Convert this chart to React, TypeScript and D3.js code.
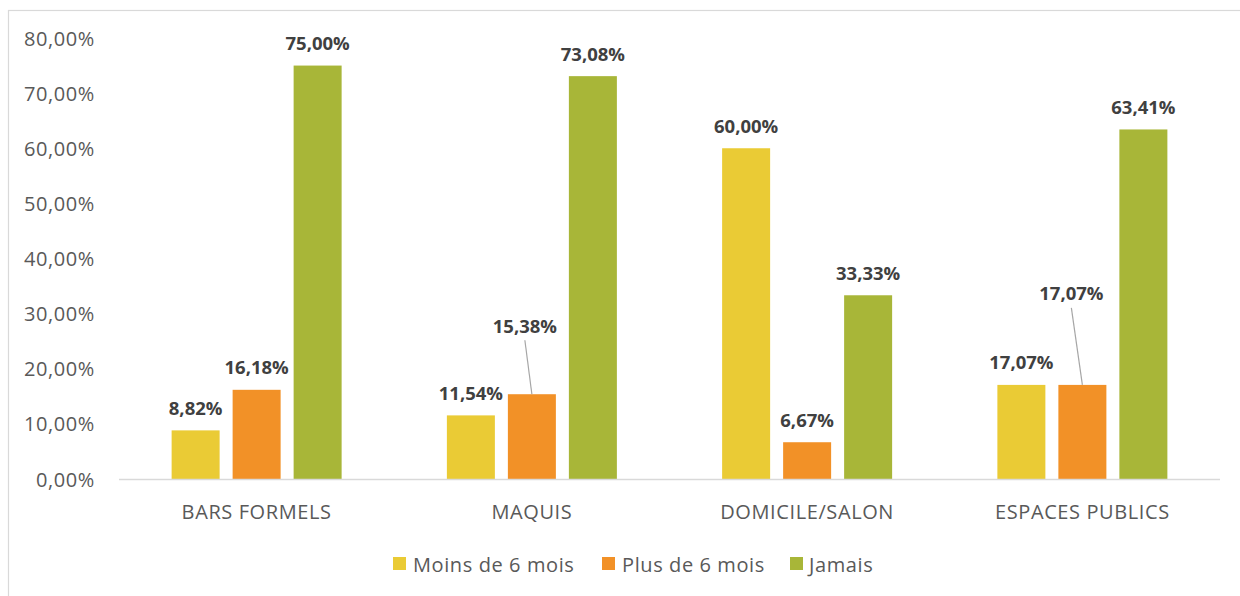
import React from "react";
import * as d3 from "d3";

const categories = ["BARS FORMELS", "MAQUIS", "DOMICILE/SALON", "ESPACES PUBLICS"];
const seriesNames = ["Moins de 6 mois", "Plus de 6 mois", "Jamais"];
const moinsDe6Mois = [0.0882, 0.1154, 0.6, 0.1707];
const plusDe6Mois = [0.1618, 0.1538, 0.0667, 0.1707];
const jamais = [0.75, 0.7308, 0.3333, 0.6341];
const yTicks = [0, 0.1, 0.2, 0.3, 0.4, 0.5, 0.6, 0.7, 0.8];

const seriesValues = [moinsDe6Mois, plusDe6Mois, jamais];
const colors = ["#EACB35", "#F29127", "#A8B638"];

// label placement tweaks (style, not data): offset of label centre vs default
const labelMoves: Record<string, { dx: number; rise: number }> = {
  "1|1": { dx: -7, rise: 69 },
  "1|3": { dx: -11, rise: 92 },
};

const W = 1240;
const H = 596;
const FONT = "'Open Sans', 'Noto Sans', sans-serif";

const fmt = (v: number) => (v * 100).toFixed(2).replace(".", ",") + "%";

export default function App() {
  const x = d3.scaleBand<string>().domain(categories).range([119, 1220]).padding(0);
  const inner = d3
    .scaleBand<string>()
    .domain(seriesNames)
    .range([0, 170])
    .paddingInner(13 / 61)
    .paddingOuter(0);
  const y = d3.scaleLinear().domain([0, 0.8]).range([479, 38]);

  const groupOffset = (x.bandwidth() - 170) / 2;

  const legendItems = [
    { name: seriesNames[0], sq: 393, tx: 413 },
    { name: seriesNames[1], sq: 602, tx: 622 },
    { name: seriesNames[2], sq: 790, tx: 809 },
  ];

  const axisText = { fontSize: 20, letterSpacing: 0.6, fill: "#595959" };

  return (
    <svg
      width={W}
      height={H}
      style={{ position: "absolute", left: 0, top: 0, background: "#fff" }}
      fontFamily={FONT}
    >
      <rect x={8.5} y={10.5} width={1300} height={700} fill="#fff" stroke="#D9D9D9" strokeWidth={1.2} />

      {yTicks.map((t) => (
        <text
          key={t}
          x={95}
          y={y(t)}
          textAnchor="end"
          dominantBaseline="central"
          {...axisText}
        >
          {fmt(t)}
        </text>
      ))}

      {seriesValues.map((vals, si) =>
        vals.map((v, ci) => {
          const bx = (x(categories[ci]) as number) + groupOffset + (inner(seriesNames[si]) as number);
          return (
            <rect
              key={`b${si}-${ci}`}
              x={bx}
              y={y(v)}
              width={inner.bandwidth()}
              height={y(0) - y(v)}
              fill={colors[si]}
            />
          );
        })
      )}

      <line x1={119} x2={1220} y1={479.5} y2={479.5} stroke="#D9D9D9" strokeWidth={1.5} />

      {categories.map((c) => (
        <text
          key={c}
          x={(x(c) as number) + x.bandwidth() / 2}
          y={511}
          textAnchor="middle"
          dominantBaseline="central"
          {...axisText}
        >
          {c}
        </text>
      ))}

      {seriesValues.map((vals, si) =>
        vals.map((v, ci) => {
          const cx =
            (x(categories[ci]) as number) +
            groupOffset +
            (inner(seriesNames[si]) as number) +
            inner.bandwidth() / 2;
          const top = y(v);
          const mv = labelMoves[`${si}|${ci}`];
          const lx = cx + (mv ? mv.dx : 0);
          const ly = top - (mv ? mv.rise : 23);
          return (
            <g key={`l${si}-${ci}`}>
              {mv && (
                <line x1={lx} y1={ly + 15} x2={cx} y2={top} stroke="#A6A6A6" strokeWidth={1.2} />
              )}
              <text
                x={lx}
                y={ly}
                textAnchor="middle"
                dominantBaseline="central"
                fontSize={18.5}
                fontWeight="bold"
                fill="#404040"
              >
                {fmt(v)}
              </text>
            </g>
          );
        })
      )}

      {legendItems.map((it, i) => (
        <g key={it.name}>
          <rect x={it.sq} y={557} width={13} height={13} fill={colors[i]} />
          <text x={it.tx} y={564} dominantBaseline="central" {...axisText}>
            {it.name}
          </text>
        </g>
      ))}
    </svg>
  );
}
